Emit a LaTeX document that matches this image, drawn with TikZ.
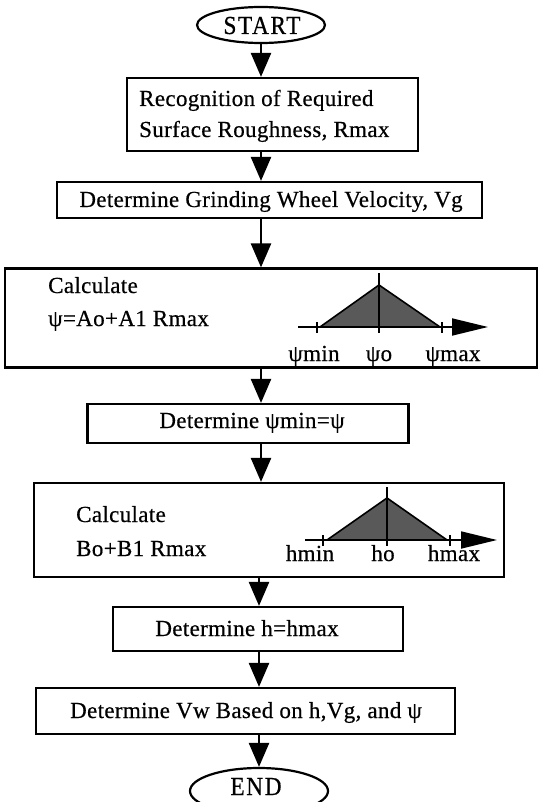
\documentclass[tikz,border=0pt]{standalone}
\usepackage{fontspec}
\setmainfont{Liberation Serif}
\newfontfamily\boxfont[LetterSpace=1.5,FakeBold=0.5]{Liberation Serif}
\newfontfamily\termfont[FakeStretch=0.9,LetterSpace=6,FakeBold=0.5]{Liberation Serif}
\usetikzlibrary{arrows.meta,shapes.geometric}
\begin{document}
\begin{tikzpicture}[x=1pt,y=-1pt,
  box/.style={draw,line width=2.2pt,rectangle,inner sep=0pt},
  term/.style={draw,line width=2.2pt,ellipse,inner sep=0pt},
  arr/.style={line width=2.5pt,-{Triangle[length=24pt,width=20pt]}},
  txt/.style={inner sep=0pt,font=\boxfont\fontsize{23}{27}\selectfont},
  ttxt/.style={inner sep=0pt,anchor=base,font=\termfont\fontsize{26}{30}\selectfont},
  axis/.style={line width=1.8pt,-{Triangle[length=36pt,width=17pt]}},
  tick/.style={line width=1.8pt},
  tri/.style={draw,line width=1.6pt,fill=black!65}]
\useasboundingbox (0,0) rectangle (538,802);
\clip (0,0) rectangle (538,802);

% terminals and boxes
\node[term,minimum width=128pt,minimum height=36pt] (start) at (261,25) {};
\node[ttxt] (starttxt) at (262,34) {START};
\node[box,minimum width=291pt,minimum height=73pt] (b1) at (272.5,114.5) {};
\node[box,minimum width=425pt,minimum height=36pt] (b2) at (269.5,200) {};
\node[box,minimum width=532pt,minimum height=99pt] (b3) at (271,318) {};
\node[box,minimum width=321pt,minimum height=39pt] (b4) at (248,423.5) {};
\node[box,minimum width=470pt,minimum height=94pt] (b5) at (269,530) {};
\node[box,minimum width=290pt,minimum height=44pt] (b6) at (258,629) {};
\node[box,minimum width=419pt,minimum height=46pt] (b7) at (245.5,711) {};
\node[term,minimum width=138pt,minimum height=46pt] (end) at (259,791) {};
\node[ttxt] (endtxt) at (256,795) {END};

% texts
\node[txt,anchor=base west] (t1a) at (139,106) {Recognition of Required};
\node[txt,anchor=base west] (t1b) at (139,137) {Surface Roughness, Rmax};
\node[txt,anchor=base] (t2) at (271,207) {Determine Grinding Wheel Velocity, Vg};
\node[txt,anchor=base west] (t3a) at (48,293) {Calculate};
\node[txt,anchor=base west] (t3b) at (48,326) {ψ=Ao+A1 Rmax};
\node[txt,anchor=base] (t4) at (252,428) {Determine ψmin=ψ};
\node[txt,anchor=base west] (t5a) at (76,522) {Calculate};
\node[txt,anchor=base west] (t5b) at (76,556) {Bo+B1 Rmax};
\node[txt,anchor=base] (t6) at (247,636) {Determine h=hmax};
\node[txt,anchor=base] (t7) at (246,718) {Determine Vw Based on h,Vg, and ψ};

% graph 1
\coordinate (g1a) at (298,327);
\coordinate (g1b) at (488,327);
\coordinate (g1l) at (320,327);
\coordinate (g1t) at (379,285);
\coordinate (g1r) at (440,327);
\coordinate (g1top) at (379,273);
\coordinate (g1bot) at (379,333);
\draw[tri] (g1l) -- (g1t) -- (g1r) -- cycle;
\draw[axis] (g1a) -- (g1b);
\draw[tick] (g1top) -- (g1bot);
\draw[tick] (317,322) -- (317,333);
\draw[tick] (442,322) -- (442,333);
\node[txt,anchor=base] (p1) at (314,361) {ψmin};
\node[txt,anchor=base] (p2) at (379,361) {ψo};
\node[txt,anchor=base] (p3) at (453,361) {ψmax};

% graph 2
\coordinate (g2a) at (305,540);
\coordinate (g2b) at (497,540);
\coordinate (g2l) at (327,540);
\coordinate (g2t) at (387,498);
\coordinate (g2r) at (447,540);
\coordinate (g2top) at (387,487);
\coordinate (g2bot) at (387,546);
\draw[tri] (g2l) -- (g2t) -- (g2r) -- cycle;
\draw[axis] (g2a) -- (g2b);
\draw[tick] (g2top) -- (g2bot);
\draw[tick] (323,535) -- (323,546);
\draw[tick] (450,535) -- (450,546);
\node[txt,anchor=base] (h1) at (310,561) {hmin};
\node[txt,anchor=base] (h2) at (383,561) {ho};
\node[txt,anchor=base] (h3) at (454,561) {hmax};

% connectors
\draw[arr] (start.south) -- (start.south |- b1.north);
\draw[arr] (b1.south -| start) -- (b2.north -| start);
\draw[arr] (b2.south -| start) -- (b3.north -| start);
\draw[arr] (b3.south -| start) -- (b4.north -| start);
\draw[arr] (b4.south -| start) -- (b5.north -| start);
\draw[arr] (b5.south -| end) -- (b6.north -| end);
\draw[arr] (b6.south -| end) -- (b7.north -| end);
\draw[arr] (b7.south -| end) -- (end.north);
\end{tikzpicture}
\end{document}
